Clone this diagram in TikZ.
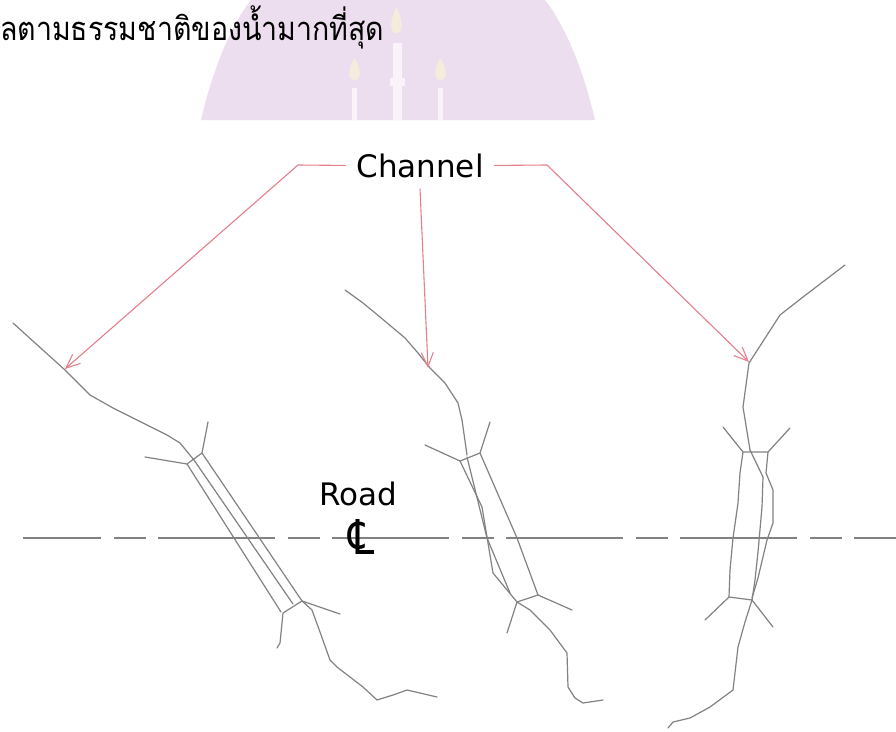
\documentclass[tikz,border=0pt]{standalone}
\usepackage{fontspec}
\setmainfont{DejaVu Sans}
\newfontfamily\thaifont[Script=Thai]{Loma}
\newfontfamily\symfont{DejaVu Sans}
\usetikzlibrary{arrows.meta}
\definecolor{wmpurple}{RGB}{236,222,238}
\definecolor{wmspire}{RGB}{250,244,250}
\definecolor{wmflame}{RGB}{246,236,222}
\definecolor{pinkln}{RGB}{228,128,140}
\definecolor{chgray}{RGB}{130,130,130}
\tikzset{
  chan/.style={draw=chgray, line width=1.2pt, line join=round, line cap=round},
  callout/.style={draw=pinkln, line width=1.1pt, line join=round,
    -{Straight Barb[length=14pt,width=12pt,line width=1.1pt]}},
  roadcl/.style={draw=chgray, line width=1.8pt,
    dash pattern=on 117pt off 13pt on 32pt off 12pt, dash phase=39pt},
  label/.style={font=\fontsize{31}{36}\selectfont, text=black, inner sep=0pt}
}
\begin{document}
\begin{tikzpicture}[x=1pt,y=-1pt]
\useasboundingbox (0,0) rectangle (896,731);
\fill[white] (0,0) rectangle (896,731);
\begin{scope}
\clip (0,0) rectangle (896,731);
% faint temple emblem behind the heading
\fill[wmpurple] (201,120) .. controls (215,60) and (235,20) .. (251,0)
  -- (545,0) .. controls (561,20) and (581,60) .. (595,120) -- cycle;
\fill[wmspire] (393,43) rectangle (402,120);
\fill[wmspire] (390,78) rectangle (405,86);
\fill[wmspire] (352,88) rectangle (357,120);
\fill[wmspire] (438,88) rectangle (443,120);
\fill[wmflame] (396.5,7) .. controls (390,20) and (389,33) .. (396.5,33)
  .. controls (404,33) and (403,20) .. (396.5,7) -- cycle;
\fill[wmflame] (354.5,58) .. controls (348,68) and (347,80) .. (354.5,80)
  .. controls (362,80) and (361,68) .. (354.5,58) -- cycle;
\fill[wmflame] (440.5,58) .. controls (434,68) and (433,80) .. (440.5,80)
  .. controls (448,80) and (447,68) .. (440.5,58) -- cycle;
\end{scope}
% heading
\node[anchor=base west, inner sep=0pt, font=\thaifont\fontsize{28.5}{34}\selectfont]
  (heading) at (0,40) {\scalebox{1}[1.15]{ลตามธรรมชาติของน้ำมากที่สุด}};

% road centre line
\coordinate (rdA) at (23,538);
\coordinate (rdB) at (896,538);
\draw[roadcl] (rdA) -- (rdB);
\node[label, anchor=base] (road) at (358,505) {Road};
\node[inner sep=0pt, font=\symfont\fontsize{48}{52}\selectfont] (cl) at (362,537)
  {\scalebox{0.85}[1]{℄}};

% channel on the left, skewed culvert
\draw[chan] (13,323) -- (65,370) -- (90,395) -- (113,408) -- (143,423)
  -- (167,435) -- (180,443) -- (194,460);
\draw[chan] (145,457) -- (187,464) -- (202,453) -- (208,422);
\draw[chan] (187,464) -- (281,612);
\draw[chan] (194,460) -- (293,604);
\draw[chan] (202,453) -- (302,601);
\draw[chan] (277,648) -- (280,643) -- (283,613) -- (302,601) -- (340,614);
\draw[chan] (302,601) -- (312,610) -- (320,632) -- (330,660) -- (337,667)
  -- (350,677) -- (363,687) -- (377,700) -- (393,695) -- (407,690)
  -- (420,693) -- (437,697);

% channel in the middle
\draw[chan] (345,290) -- (363,303) -- (380,317) -- (405,338) -- (418,353)
  -- (430,368) -- (437,375) -- (445,383) -- (458,403) -- (462,420) -- (467,455);
\draw[chan] (425,445) -- (460,461) -- (480,453) -- (490,422);
\draw[chan] (460,461) -- (482,507) -- (493,573) -- (517,602);
\draw[chan] (467,457) -- (487,538) -- (510,593);
\draw[chan] (480,453) -- (517,538) -- (538,595);
\draw[chan] (507,633) -- (517,602) -- (538,595) -- (572,610);
\draw[chan] (517,602) -- (530,610) -- (550,630) -- (567,653) -- (568,687)
  -- (575,698) -- (583,703) -- (603,700);

% channel on the right
\draw[chan] (845,265) -- (803,297) -- (780,315) -- (749,363) -- (743,407) -- (750,450);
\draw[chan] (723,427) -- (743,452) -- (768,452) -- (790,428);
\draw[chan] (743,452) -- (740,473) -- (738,503) -- (733,538) -- (730,570) -- (729,597);
\draw[chan] (750,450) -- (763,477) -- (762,507) -- (758,552) -- (755,580) -- (752,600);
\draw[chan] (768,452) -- (766,473) -- (773,490) -- (773,523) -- (767,540)
  -- (758,578) -- (752,598);
\draw[chan] (705,620) -- (729,597) -- (752,600) -- (773,627);
\draw[chan] (752,600) -- (745,622) -- (738,647) -- (733,690) -- (710,707)
  -- (690,718) -- (673,722) -- (668,728);

% callout
\node[label, anchor=base] (ch) at (420,177) {Channel};
\coordinate (tipL) at (65,369);
\coordinate (tipM) at (428,368);
\coordinate (tipR) at (749,362);
\coordinate (kneeL) at (298,165);
\coordinate (kneeR) at (547,165);
\draw[callout] ([xshift=-10pt]ch.west) -- (kneeL) -- (tipL);
\draw[callout] ([yshift=-11pt]ch.south) -- (tipM);
\draw[callout] ([xshift=10pt]ch.east) -- (kneeR) -- (tipR);
\end{tikzpicture}
\end{document}
